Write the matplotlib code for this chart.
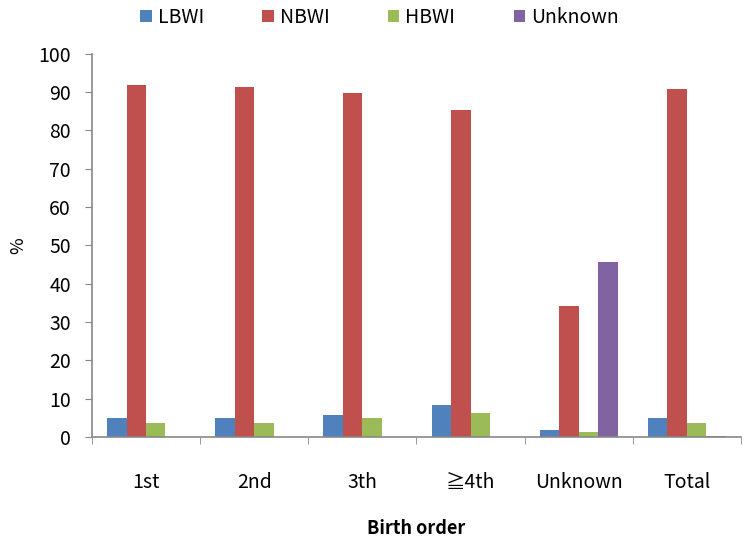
import matplotlib
matplotlib.use("Agg")
import matplotlib.pyplot as plt
import numpy as np

plt.rcParams['font.family'] = ['Noto Sans CJK KR', 'DejaVu Sans']

categories = ["1st", "2nd", "3th", "≧4th", "Unknown", "Total"]
series_names = ["LBWI", "NBWI", "HBWI", "Unknown"]
lbwi = [4.9, 5.0, 5.6, 8.3, 1.9, 5.0]
nbwi = [91.8, 91.4, 89.7, 85.4, 34.2, 90.9]
hbwi = [3.5, 3.7, 4.8, 6.3, 1.3, 3.6]
unknown = [0.0, 0.0, 0.0, 0.0, 45.7, 0.3]
colors = ["#4F81BD", "#C0504D", "#9BBB59", "#8064A2"]

fig = plt.figure(figsize=(7.47, 5.44), dpi=100)
ax = fig.add_axes([0.123, 0.197, 0.869, 0.704])

x = np.arange(len(categories))
w = 0.18
data = [lbwi, nbwi, hbwi, unknown]
for i, (vals, name, c) in enumerate(zip(data, series_names, colors)):
    ax.bar(x + (i - 1.5) * w, vals, width=w, color=c, label=name, linewidth=0)

ax.set_xlim(-0.5, len(categories) - 0.5)
ax.set_ylim(0, 100)
ax.set_yticks(np.arange(0, 101, 10))
ax.set_xticks(x)
ax.set_xticklabels(categories)
ax.set_xticks(np.arange(-0.5, len(categories), 1), minor=True)
ax.tick_params(axis='x', which='major', length=0, pad=25, labelsize=14)
ax.tick_params(axis='x', which='minor', length=5, color='#888888', direction='out')
ax.tick_params(axis='y', length=5, color='#888888', direction='out', labelsize=14, pad=10)
for s in ['top', 'right']:
    ax.spines[s].set_visible(False)
for s in ['left', 'bottom']:
    ax.spines[s].set_color('#888888')
    ax.spines[s].set_linewidth(1.2)

ax.set_ylabel("%", fontsize=13, labelpad=8)
ax.set_xlabel("Birth order", fontsize=13, fontweight='bold', labelpad=19)

leg = fig.legend(loc='upper center', bbox_to_anchor=(0.508, 1.02), ncol=4, frameon=False,
                 fontsize=14, handlelength=0.6, handleheight=0.6, handletextpad=0.3,
                 columnspacing=3.0)

fig.savefig("out.png", dpi=100)
